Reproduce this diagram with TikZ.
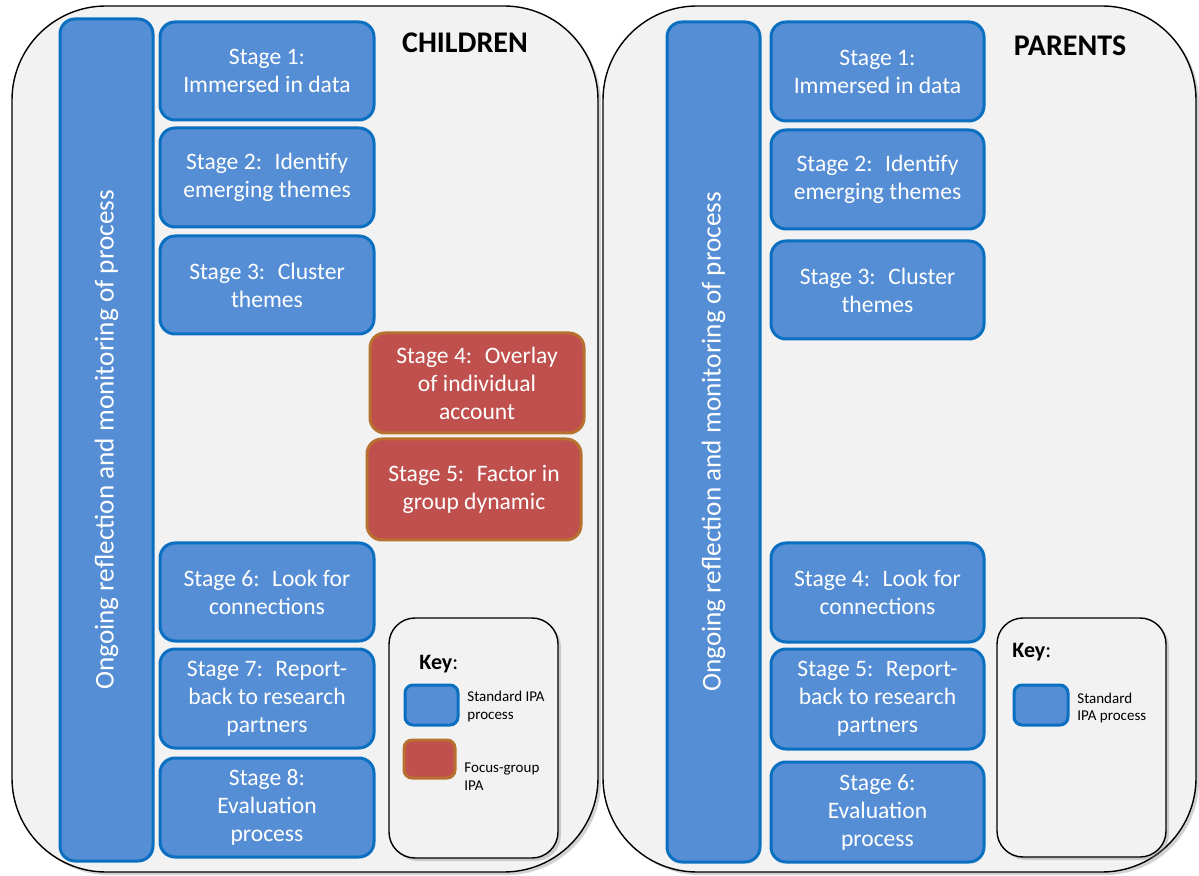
\documentclass[tikz,border=0pt]{standalone}
\usepackage{fontspec}
\setmainfont{Carlito}
\usetikzlibrary{shadows}

\definecolor{panelfill}{HTML}{F2F2F2}
\definecolor{bluefill}{HTML}{558ED5}
\definecolor{blueline}{HTML}{0B6FC1}
\definecolor{redfill}{HTML}{C0504D}
\definecolor{redline}{HTML}{B7702F}

\tikzset{
  sz/.style 2 args={minimum width=#1*0.5pt, minimum height=#2*0.5pt},
  panel/.style={draw=black, line width=0.7pt, fill=panelfill, rounded corners=47pt,
    inner sep=0pt, drop shadow={opacity=0.35, shadow xshift=1.5pt, shadow yshift=-1.5pt}},
  keybox/.style={draw=black, line width=0.7pt, fill=panelfill, rounded corners=13pt,
    inner sep=0pt, drop shadow={opacity=0.35, shadow xshift=1.5pt, shadow yshift=-1.5pt}},
  bluebox/.style={draw=blueline, line width=1.5pt, fill=bluefill, rounded corners=7.5pt,
    inner sep=0pt, text=white, align=center},
  redbox/.style={draw=redline, line width=1.5pt, fill=redfill, rounded corners=7.5pt,
    inner sep=0pt, text=white, align=center},
  stagetext/.style={font=\fontsize{11.8}{14}\selectfont},
  barbox/.style={bluebox, rotate=90, font=\fontsize{13.6}{16}\selectfont},
  headline/.style={font=\fontsize{15}{18}\selectfont\bfseries, inner sep=0pt},
  keytitle/.style={font=\fontsize{11}{13}\selectfont, anchor=west, inner sep=0pt},
  legendtext/.style={font=\fontsize{7.5}{9}\selectfont, anchor=west, align=left, inner sep=0pt},
  blueswatch/.style={draw=blueline, line width=1.5pt, fill=bluefill, rounded corners=4pt, inner sep=0pt},
  redswatch/.style={draw=redline, line width=1.5pt, fill=redfill, rounded corners=4pt, inner sep=0pt},
}

\begin{document}
\begin{tikzpicture}[x=0.5pt, y=-0.5pt]
\useasboundingbox[fill=white] (0,0) rectangle (1199,876);

% ---------- the two panels ----------
\node[panel, sz={586}{866}] (childpanel) at (305,439) {};
\node[panel, sz={593}{866}] (parentpanel) at (899.5,439) {};

% ---------- CHILDREN ----------
\node[headline] (childtitle) at (465,43) {CHILDREN};
\node[barbox, sz={842}{93}] (childbar) at (106.5,440)
  {Ongoing reflection and monitoring of process};

\node[bluebox, stagetext, sz={214}{98}] (c1) at (267,71)    {Stage 1:\\Immersed in data};
\node[bluebox, stagetext, sz={214}{99}] (c2) at (267,177.5) {Stage 2:~ Identify\\emerging themes};
\node[bluebox, stagetext, sz={214}{98}] (c3) at (267,285)   {Stage 3:~ Cluster\\themes};
\node[redbox,  stagetext, sz={214}{100}] (c4) at (477,383)  {Stage 4:~ Overlay\\of individual\\account};
\node[redbox,  stagetext, sz={214}{101}] (c5) at (474,489.5){Stage 5:~ Factor in\\group dynamic};
\node[bluebox, stagetext, sz={214}{98}] (c6) at (267,592)   {Stage 6:~ Look for\\connections};
\node[bluebox, stagetext, sz={214}{99}] (c7) at (267,698.5) {Stage 7:~ Report-\\back to research\\partners};
\node[bluebox, stagetext, sz={214}{99}] (c8) at (267,807.5) {Stage 8:\\Evaluation\\process};

% key of the children panel
\node[keybox, sz={169}{240}] (childkey) at (473.5,738) {};
\node[keytitle] (childkeytitle) at (419,664) {\textbf{Key}:};
\node[blueswatch, sz={53}{40}] (childkeyblue) at (431.5,705) {};
\node[legendtext] (childkeybluetext) at (467,706) {Standard IPA\\process};
\node[redswatch, sz={51}{38}] (childkeyred) at (429.5,759) {};
\node[legendtext] (childkeyredtext) at (464,777) {Focus-group\\IPA};

% ---------- PARENTS ----------
\node[headline] (parenttitle) at (1070,46) {PARENTS};
\node[barbox, sz={840}{93}] (parentbar) at (713.5,442)
  {Ongoing reflection and monitoring of process};

\node[bluebox, stagetext, sz={213}{99}]  (p1) at (877.5,71.5) {Stage 1:\\Immersed in data};
\node[bluebox, stagetext, sz={213}{99}]  (p2) at (877.5,179.5){Stage 2:~ Identify\\emerging themes};
\node[bluebox, stagetext, sz={213}{98}]  (p3) at (877.5,290)  {Stage 3:~ Cluster\\themes};
\node[bluebox, stagetext, sz={213}{99}]  (p4) at (877.5,592.5){Stage 4:~ Look for\\connections};
\node[bluebox, stagetext, sz={213}{100}] (p5) at (877.5,699)  {Stage 5:~ Report-\\back to research\\partners};
\node[bluebox, stagetext, sz={213}{100}] (p6) at (877.5,812)  {Stage 6:\\Evaluation\\process};

% key of the parents panel
\node[keybox, sz={169}{239}] (parentkey) at (1081.5,737.5) {};
\node[keytitle] (parentkeytitle) at (1012,652) {\textbf{Key}:};
\node[blueswatch, sz={54}{40}] (parentkeyblue) at (1041,705) {};
\node[legendtext] (parentkeybluetext) at (1077,708) {Standard\\IPA process};

\end{tikzpicture}
\end{document}
